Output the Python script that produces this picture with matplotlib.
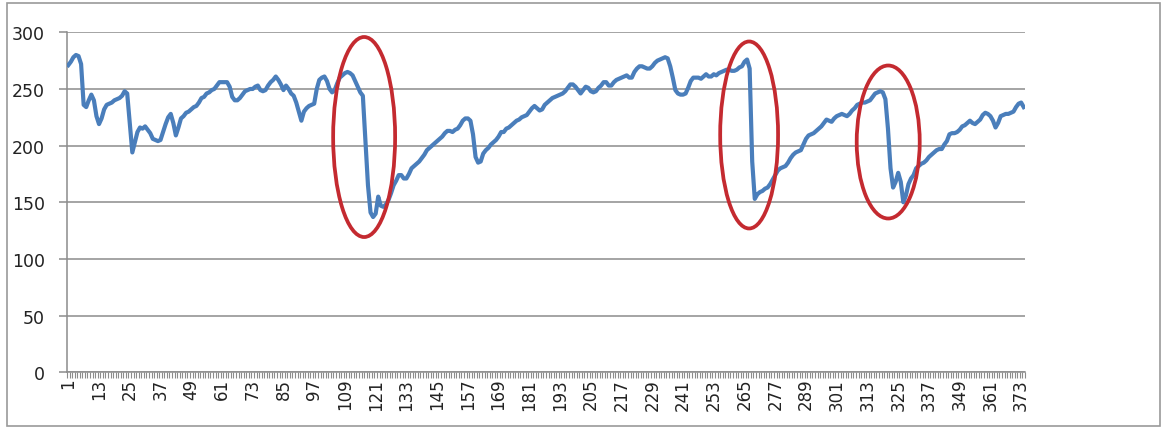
import matplotlib.pyplot as plt
from matplotlib.patches import Ellipse, Rectangle

# values, one per category (1..374)
values = [
    271, 274, 278, 280, 279, 272, 236, 234, 240, 245, 240, 226,
    219, 224, 232, 236, 237, 238, 240, 241, 242, 244, 248, 246,
    220, 194, 203, 212, 216, 215, 217, 214, 211, 206, 205, 204,
    205, 212, 219, 225, 228, 220, 209, 216, 224, 226, 229, 230,
    232, 234, 235, 238, 242, 243, 246, 247, 249, 250, 253, 256,
    256, 256, 256, 252, 243, 240, 240, 242, 245, 248, 249, 250,
    250, 252, 253, 249, 248, 249, 253, 256, 258, 261, 258, 254,
    249, 253, 250, 246, 244, 238, 230, 222, 230, 233, 235, 236,
    237, 250, 258, 260, 261, 257, 250, 247, 249, 255, 260, 262,
    264, 265, 264, 262, 257, 252, 247, 244, 205, 165, 141, 137,
    140, 155, 147, 146, 148, 152, 158, 165, 169, 174, 174, 171,
    171, 175, 180, 182, 184, 186, 189, 192, 196, 198, 200, 202,
    204, 206, 208, 211, 213, 213, 212, 214, 215, 218, 222, 224,
    224, 222, 210, 190, 185, 186, 193, 196, 198, 201, 203, 205,
    208, 212, 212, 215, 216, 218, 220, 222, 223, 225, 226, 227,
    230, 233, 235, 233, 231, 232, 236, 238, 240, 242, 243, 244,
    245, 246, 248, 251, 254, 254, 252, 249, 246, 249, 252, 251,
    248, 247, 248, 251, 253, 256, 256, 253, 253, 256, 258, 259,
    260, 261, 262, 260, 260, 265, 268, 270, 270, 269, 268, 268,
    270, 273, 275, 276, 277, 278, 277, 270, 260, 249, 246, 245,
    245, 246, 251, 257, 260, 260, 260, 259, 261, 263, 261, 261,
    263, 262, 264, 265, 266, 267, 267, 266, 266, 267, 269, 270,
    274, 276, 268, 186, 153, 157, 159, 160, 162, 163, 166, 170,
    174, 178, 180, 181, 182, 185, 189, 192, 194, 195, 196, 201,
    206, 209, 210, 211, 213, 215, 217, 220, 223, 222, 221, 224,
    226, 227, 228, 227, 226, 228, 231, 233, 236, 237, 238, 238,
    239, 240, 243, 246, 247, 248, 247, 241, 215, 180, 163, 168,
    176, 168, 150, 156, 166, 171, 174, 180, 182, 184, 185, 187,
    190, 192, 194, 196, 197, 197, 201, 204, 210, 211, 211, 212,
    214, 217, 218, 220, 222, 220, 219, 221, 223, 227, 229, 228,
    226, 222, 216, 220, 226, 227, 228, 228, 229, 230, 234, 237,
    238, 234,
]
categories = list(range(1, len(values) + 1))

tick_labels = [
    "1", "13", "25", "37", "49", "61", "73", "85", "97", "109", "121",
    "133", "145", "157", "169", "181", "193", "205", "217", "229", "241",
    "253", "265", "277", "289", "301", "313", "325", "337", "349", "361",
    "373",
]
y_ticks = [0, 50, 100, 150, 200, 250, 300]

# red highlight rings: centre category, centre value, width, height
ring_x = [116.5, 266.8, 321.1]
ring_y = [207.6, 209.4, 203.2]
ring_w = [24.2, 22.6, 24.6]
ring_h = [176.5, 165.0, 135.0]

grid_color = "#8c8c8c"

fig = plt.figure(figsize=(11.66, 4.31), dpi=100)
ax = fig.add_axes([67 / 1166, 1 - 373.3 / 431, 958 / 1166, 340 / 431])

ax.plot(categories, values, color="#4a7ebb", linewidth=3.0,
        solid_joinstyle="round", zorder=3)

for cx, cy, w, h in zip(ring_x, ring_y, ring_w, ring_h):
    ax.add_patch(Ellipse((cx, cy), w, h, fill=False, edgecolor="#c42a30",
                         linewidth=2.7, zorder=4, clip_on=False))

ax.set_xlim(0.5, len(values) + 0.5)
ax.set_ylim(0, 300)

ax.set_yticks(y_ticks)
ax.set_yticklabels([str(v) for v in y_ticks])
ax.grid(axis="y", color=grid_color, linewidth=1.1)
ax.set_axisbelow(True)

label_pos = [int(t) for t in tick_labels]
ax.set_xticks(label_pos)
ax.set_xticklabels(tick_labels, rotation=90)
ax.set_xticks([c - 0.5 for c in categories] + [len(values) + 0.5], minor=True)

ax.tick_params(axis="x", which="major", length=0, pad=4,
               labelsize=12, labelcolor="#222222")
ax.tick_params(axis="x", which="minor", length=4.5, width=0.8,
               color=grid_color, direction="out")
ax.tick_params(axis="y", length=6, width=1.1, color=grid_color, pad=10,
               labelsize=12.5, labelcolor="#222222")

for side in ["top", "right"]:
    ax.spines[side].set_visible(False)
for side in ["left", "bottom"]:
    ax.spines[side].set_color(grid_color)
    ax.spines[side].set_linewidth(1.1)

# outer chart border
fig.patches.append(Rectangle((7 / 1166, 4 / 431), 1153 / 1166, 423 / 431,
                             transform=fig.transFigure, fill=False,
                             edgecolor="#9a9a9a", linewidth=1.2))

fig.savefig("out.png", dpi=100)
